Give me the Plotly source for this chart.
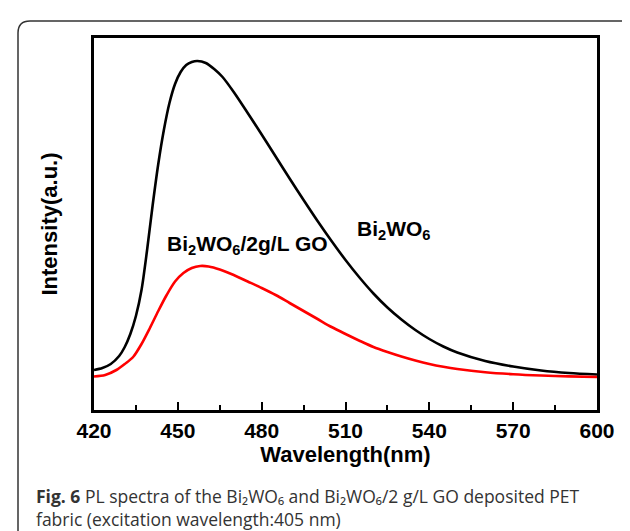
import plotly.graph_objects as go

# Wavelength (nm) and PL intensity (a.u.)
black_wl = [420, 423, 426, 429, 431, 433, 435, 437, 439, 441, 443, 445, 447, 449, 451,
            453, 455, 457, 460, 463, 466, 470, 475, 480, 485, 490, 495, 500, 505, 510,
            515, 520, 525, 530, 535, 540, 545, 550, 560, 570, 580, 590, 600]
black_int = [40, 42, 46, 54, 63, 76, 94, 120, 160, 205, 246, 280, 307, 326, 338,
             345, 348, 349, 347, 341, 333, 318, 297, 275.5, 253.5, 231.5, 210, 189, 169, 150,
             132.5, 116.5, 102.5, 90.5, 80, 71, 63.5, 57.5, 49, 43.5, 39.5, 37, 35.5]

red_wl = [420, 424, 428, 431, 434, 437, 440, 443, 446, 449, 452, 455, 458, 461, 465,
          470, 475, 480, 485, 490, 495, 500, 505, 510, 515, 520, 525, 530, 535, 540,
          545, 550, 560, 570, 580, 590, 600]
red_int = [33.5, 35, 40, 46, 53, 66, 82, 99, 115, 128.5, 137, 142, 144, 143.5, 140.5,
           135, 128.5, 122, 115, 107, 99, 91, 83, 76, 69.3, 63, 58, 53.5, 49.5, 46,
           43.2, 41, 37.8, 35.8, 34.5, 33.6, 33]

x_ticks = [420, 450, 480, 510, 540, 570, 600]

L, R, T, B = 86, 589, 30, 402
W, H = 630, 531


def px(x):
    return (x - L) / (R - L)


def py(y):
    return (B - y) / (B - T)


fig = go.Figure()
fig.add_trace(go.Scatter(x=black_wl, y=black_int, mode="lines",
                         line=dict(color="black", width=2.6, shape="spline", smoothing=0.8),
                         name="Bi2WO6", showlegend=False))
fig.add_trace(go.Scatter(x=red_wl, y=red_int, mode="lines",
                         line=dict(color="#ff0000", width=2.6, shape="spline", smoothing=0.8),
                         name="Bi2WO6/2g/L GO", showlegend=False))

axis_font = dict(family="Liberation Sans, Arial", size=21, color="black")
title_font = dict(family="Liberation Sans, Arial", size=22, color="black")

fig.update_xaxes(range=[420, 600], tickvals=x_ticks, ticktext=[f"<b>{v}</b>" for v in x_ticks],
                 ticks="inside", ticklen=8, tickwidth=2, tickcolor="black",
                 minor=dict(ticks="inside", ticklen=5, tickwidth=2, tickcolor="black", dtick=15, tick0=420),
                 showline=True, linewidth=3, linecolor="black", mirror=True, showgrid=False, zeroline=False,
                 tickfont=axis_font,
                 title=dict(text="<b>Wavelength(nm)</b>", font=title_font, standoff=6))
fig.update_yaxes(range=[0, 372], showticklabels=False, ticks="",
                 showline=True, linewidth=3, linecolor="black", mirror=True, showgrid=False, zeroline=False,
                 title=dict(text="<b>Intensity(a.u.)</b>", font=title_font, standoff=28))

fig.update_layout(width=W, height=H, margin=dict(l=L, r=W - R, t=T, b=H - B),
                  plot_bgcolor="white", paper_bgcolor="white")

fig.add_annotation(x=px(157), y=py(237), xref="paper", yref="paper", xanchor="left", yanchor="middle",
                   text="<b>Bi<sub>2</sub>WO<sub>6</sub>/2g/L GO</b>", showarrow=False,
                   font=dict(family="Liberation Sans, Arial", size=21, color="black"))
fig.add_annotation(x=px(347), y=py(222), xref="paper", yref="paper", xanchor="left", yanchor="middle",
                   text="<b>Bi<sub>2</sub>WO<sub>6</sub></b>", showarrow=False,
                   font=dict(family="Liberation Sans, Arial", size=21, color="black"))

cap_font = dict(family="Open Sans, Noto Sans", size=17.5, color="#333333")
fig.add_annotation(x=px(26), y=py(499), xref="paper", yref="paper", xanchor="left", yanchor="middle",
                   align="left",
                   text="<b>Fig. 6</b> PL spectra of the Bi\u2082WO\u2086 and Bi\u2082WO\u2086/2 g/L GO deposited PET"
                        "<br>fabric (excitation wavelength:405 nm)",
                   showarrow=False, font=cap_font)

# rounded outer border
x0, x1, y0, y1, r = 10, 628.5, 13, 540, 12
path = (f"M {px(x0 + r)},{py(y0)} L {px(x1 - r)},{py(y0)} Q {px(x1)},{py(y0)} {px(x1)},{py(y0 + r)} "
        f"L {px(x1)},{py(y1 - r)} Q {px(x1)},{py(y1)} {px(x1 - r)},{py(y1)} "
        f"L {px(x0 + r)},{py(y1)} Q {px(x0)},{py(y1)} {px(x0)},{py(y1 - r)} "
        f"L {px(x0)},{py(y0 + r)} Q {px(x0)},{py(y0)} {px(x0 + r)},{py(y0)} Z")
fig.add_shape(type="path", path=path, xref="paper", yref="paper",
              line=dict(color="#333333", width=1.5), layer="below")

fig.write_html("out.html")
